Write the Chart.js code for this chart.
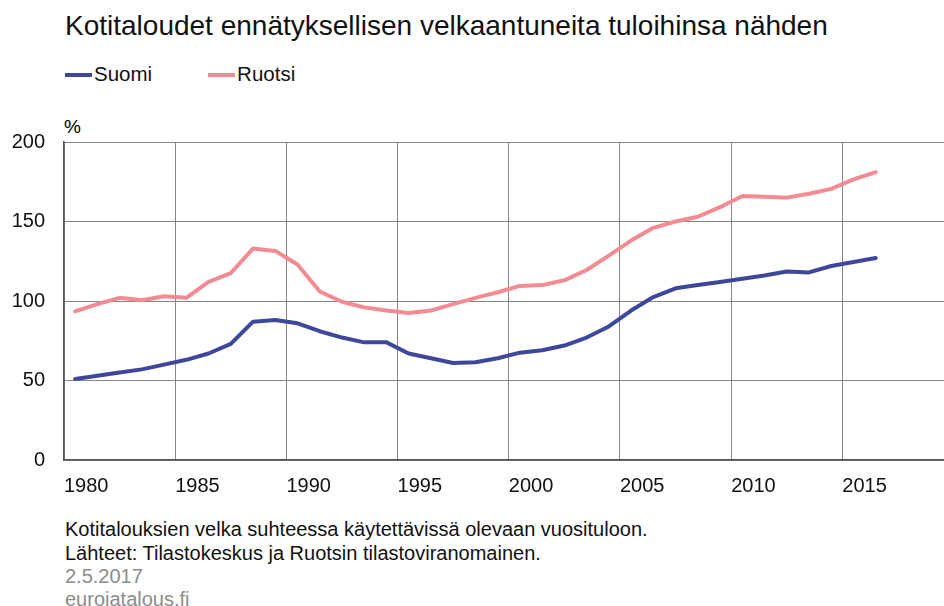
<!DOCTYPE html>
<html>
<head>
<meta charset="utf-8">
<script src="https://cdn.jsdelivr.net/npm/chart.js@4.4.0/dist/chart.umd.min.js"></script>
<style>
  body { margin: 0; width: 944px; height: 606px; overflow: hidden; background: #fff;
         font-family: "Liberation Sans", Arial, sans-serif; color: #000; position: relative; }
  .abs { position: absolute; white-space: nowrap; }
  #title { left: 65px; top: 10px; font-size: 28px; color: #111; }
  #legend { left: 65px; top: 62px; font-size: 20.5px; color: #111; }
  #legend span.item { display: inline-block; margin-right: 56px; }
  #legend i { display: inline-block; width: 27px; height: 4px; vertical-align: middle; margin-right: 2px; position: relative; top: -1px; }
  #unit { left: 64px; top: 116px; font-size: 19px; }
  #wrap { left: 0; top: 120px; width: 944px; height: 390px; }
  .foot { left: 65px; font-size: 20px; color: #111; }
  .grey { color: #8c8c8c; }
</style>
</head>
<body>
<div id="title" class="abs">Kotitaloudet ennätyksellisen velkaantuneita tuloihinsa nähden</div>
<div id="legend" class="abs"></div>
<div id="unit" class="abs">%</div>
<div id="wrap" class="abs"><canvas id="lineChart"></canvas></div>
<div class="abs foot" style="top:518px">Kotitalouksien velka suhteessa käytettävissä olevaan vuosituloon.</div>
<div class="abs foot" style="top:542px">Lähteet: Tilastokeskus ja Ruotsin tilastoviranomainen.</div>
<div class="abs foot grey" style="top:565px">2.5.2017</div>
<div class="abs foot grey" style="top:588px">eurojatalous.fi</div>

<script>
// Years on the x axis
const years = [1980, 1981, 1982, 1983, 1984, 1985, 1986, 1987, 1988, 1989,
               1990, 1991, 1992, 1993, 1994, 1995, 1996, 1997, 1998, 1999,
               2000, 2001, 2002, 2003, 2004, 2005, 2006, 2007, 2008, 2009,
               2010, 2011, 2012, 2013, 2014, 2015, 2016];

// Household debt / disposable income, %
const suomi = [51, 53, 55, 57, 60, 63, 67, 73, 87, 88,
               86, 81, 77, 74, 74, 67, 64, 61, 61.5, 64,
               67.5, 69, 72, 77, 84, 94, 102.5, 108, 110, 112,
               114, 116, 118.5, 118, 122, 124.5, 127];
const ruotsi = [93.5, 98, 102, 100.5, 103, 102, 112, 117.5, 133, 131.5,
                123, 106, 99.5, 96, 94, 92.5, 94, 98, 102, 105.5,
                109.5, 110, 113, 119.5, 128.5, 138, 146, 150, 153, 159,
                166, 165.5, 165, 167.5, 170.5, 176.5, 181];

const seriesNames = ["Suomi", "Ruotsi"];
const seriesColors = ["#3f479d", "#f28b92"];

// Tick labels
const xTickLabels = [1980, 1985, 1990, 1995, 2000, 2005, 2010, 2015];
const yTickLabels = [0, 50, 100, 150, 200];

const FONT = "'Liberation Sans', Arial, sans-serif";

function toPoints(values) {
  return values.map((v, i) => ({ x: years[i], y: v }));
}

// HTML legend from series
document.getElementById("legend").innerHTML = seriesNames.map((n, i) =>
  `<span class="item"><i style="background:${seriesColors[i]}"></i>${n}</span>`).join("");

const ctx = document.getElementById("lineChart");

new Chart(ctx, {
  type: "line",
  data: {
    datasets: [
      { label: seriesNames[0], data: toPoints(suomi), borderColor: seriesColors[0], borderWidth: 4 },
      { label: seriesNames[1], data: toPoints(ruotsi), borderColor: seriesColors[1], borderWidth: 4 }
    ]
  },
  options: {
    responsive: true,
    maintainAspectRatio: false,
    animation: false,
    layout: { padding: { top: 22, left: 0, right: 0, bottom: 0 } },
    elements: { point: { radius: 0 }, line: { tension: 0, borderCapStyle: "round", borderJoinStyle: "round" } },
    plugins: { legend: { display: false }, tooltip: { enabled: false } },
    scales: {
      x: {
        type: "linear",
        min: 1979.5,
        max: 2019.07,
        afterFit: s => { s.height = 50; s.paddingLeft = 0; s.paddingRight = 0; },
        afterBuildTicks: s => { s.ticks = xTickLabels.map(y => ({ value: y - 0.5 })); },
        grid: { color: "#858585", lineWidth: 1, drawTicks: false },
        border: { color: "#555", width: 1.5 },
        ticks: {
          align: "start",
          padding: 14,
          maxRotation: 0,
          autoSkip: false,
          color: "#111",
          font: { family: FONT, size: 20 },
          callback: v => String(v + 0.5)
        }
      },
      y: {
        min: 0,
        max: 200,
        afterFit: s => { s.width = 64; s.paddingTop = 0; s.paddingBottom = 0; },
        afterBuildTicks: s => { s.ticks = yTickLabels.map(v => ({ value: v })); },
        grid: { color: "#858585", lineWidth: 1, drawTicks: false },
        border: { color: "#555", width: 1.5 },
        ticks: {
          padding: 19,
          color: "#111",
          font: { family: FONT, size: 20 }
        }
      }
    }
  }
});
</script>
</body>
</html>
